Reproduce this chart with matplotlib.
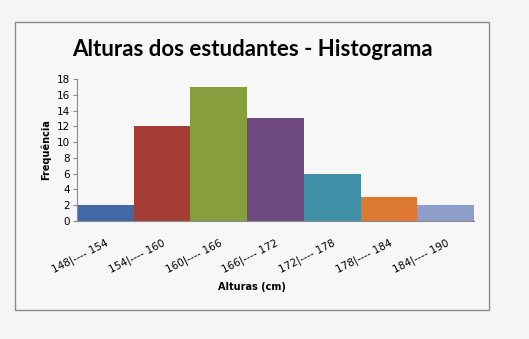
import matplotlib
matplotlib.use('Agg')
import matplotlib.pyplot as plt
from matplotlib.patches import Rectangle

# Dados do histograma
classes = ['148|---- 154', '154|---- 160', '160|---- 166', '166|---- 172',
           '172|---- 178', '178|---- 184', '184|---- 190']
frequencias = [2, 12, 17, 13, 6, 3, 2]
cores = ['#4268A6', '#A33D36', '#879D3E', '#6F4A80', '#4090A8', '#DD7830', '#8E9ECB']
yticks = list(range(0, 20, 2))

fig = plt.figure(figsize=(5.29, 3.39), dpi=100)
fig.patch.set_facecolor('#F6F5F5')

# moldura do gráfico (atrás dos eixos)
fig.patches.append(Rectangle((15 / 529, 29 / 339), 474 / 529, 288 / 339,
                             transform=fig.transFigure, fill=True, zorder=-1,
                             facecolor='#F8F7F7', edgecolor='#8A8A8A', linewidth=1.0))

ax = fig.add_axes([77 / 529, 118 / 339, 397 / 529, 142 / 339])
ax.set_facecolor('#F8F7F7')
x = range(len(classes))
ax.bar(x, frequencias, width=1.0, color=cores, align='center')
ax.set_xlim(-0.5, len(classes) - 0.5)
ax.set_ylim(0, 18)
ax.set_yticks(yticks)
ax.set_xticks(list(x))
ax.set_xticklabels(classes, rotation=27, ha='right', rotation_mode='anchor',
                   fontsize=7.5, family='DejaVu Sans')
ax.tick_params(axis='x', length=0, pad=12)
ax.tick_params(axis='y', length=3, color='#8A8A8A', labelsize=7.5, pad=2)
for s in ['top', 'right']:
    ax.spines[s].set_visible(False)
ax.spines['left'].set_color('#8A8A8A')
ax.spines['bottom'].set_color('#8A8A8A')

ax.set_ylabel('Frequência', fontsize=7, fontweight='bold', labelpad=4)
fig.text(252 / 529, 1 - 287 / 339, 'Alturas (cm)', ha='center', va='center',
         fontsize=7, fontweight='bold')
fig.text(252 / 529, 1 - 49 / 339, 'Alturas dos estudantes - Histograma',
         ha='center', va='center', fontsize=16, fontweight='bold', family='Lato')

fig.savefig('out.png', dpi=100, facecolor=fig.get_facecolor())
